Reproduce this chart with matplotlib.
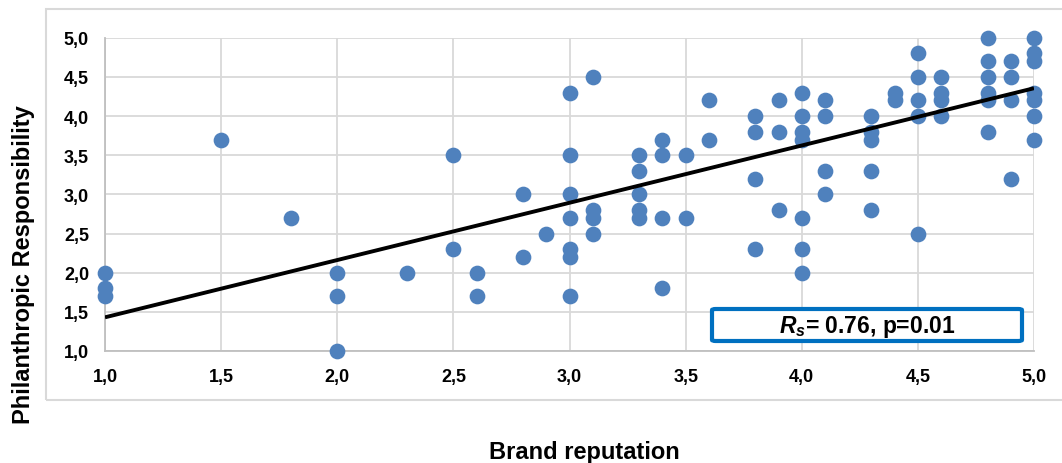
import numpy as np
import matplotlib
matplotlib.use('Agg')
import matplotlib.pyplot as plt
from matplotlib.patches import Rectangle, FancyBboxPatch
from matplotlib.ticker import FuncFormatter

plt.rcParams['font.family'] = ['Liberation Sans', 'DejaVu Sans']
plt.rcParams['mathtext.fontset'] = 'custom'
plt.rcParams['mathtext.it'] = 'Liberation Sans:italic:bold'
plt.rcParams['mathtext.rm'] = 'Liberation Sans:bold'

# Brand reputation (x) vs Philanthropic Responsibility (y)
brand = [1.0, 1.0, 1.0,
         1.5, 1.8,
         2.0, 2.0, 2.0, 2.3,
         2.5, 2.5, 2.6, 2.6, 2.8, 2.8, 2.9,
         3.0, 3.0, 3.0, 3.0, 3.0, 3.0, 3.0,
         3.1, 3.1, 3.1, 3.1,
         3.3, 3.3, 3.3, 3.3, 3.3,
         3.4, 3.4, 3.4, 3.4,
         3.5, 3.5, 3.6, 3.6,
         3.8, 3.8, 3.8, 3.8,
         3.9, 3.9, 3.9,
         4.0, 4.0, 4.0, 4.0, 4.0, 4.0, 4.0,
         4.1, 4.1, 4.1, 4.1,
         4.3, 4.3, 4.3, 4.3, 4.3,
         4.4, 4.4,
         4.5, 4.5, 4.5, 4.5, 4.5,
         4.6, 4.6, 4.6, 4.6,
         4.8, 4.8, 4.8, 4.8, 4.8, 4.8,
         4.9, 4.9, 4.9, 4.9,
         5.0, 5.0, 5.0, 5.0, 5.0, 5.0, 5.0]
philanthropic = [2.0, 1.8, 1.7,
                 3.7, 2.7,
                 2.0, 1.7, 1.0, 2.0,
                 3.5, 2.3, 2.0, 1.7, 3.0, 2.2, 2.5,
                 4.3, 3.5, 3.0, 2.7, 2.3, 2.2, 1.7,
                 4.5, 2.8, 2.7, 2.5,
                 3.5, 3.3, 3.0, 2.8, 2.7,
                 3.7, 3.5, 2.7, 1.8,
                 3.5, 2.7, 4.2, 3.7,
                 4.0, 3.8, 3.2, 2.3,
                 4.2, 3.8, 2.8,
                 4.3, 4.0, 3.8, 3.7, 2.7, 2.3, 2.0,
                 4.2, 4.0, 3.3, 3.0,
                 4.0, 3.8, 3.7, 3.3, 2.8,
                 4.3, 4.2,
                 4.8, 4.5, 4.2, 4.0, 2.5,
                 4.5, 4.3, 4.2, 4.0,
                 5.0, 4.7, 4.5, 4.3, 4.2, 3.8,
                 4.7, 4.5, 4.2, 3.2,
                 5.0, 4.8, 4.7, 4.3, 4.2, 4.0, 3.7]

# linear trend line endpoints
trend_x = [1.0, 5.0]
trend_y = [1.43, 4.355]

ticks = [1.0, 1.5, 2.0, 2.5, 3.0, 3.5, 4.0, 4.5, 5.0]
stat_text = r'$R_s$= 0.76, p=0.01'

W, H = 1062, 464
fig = plt.figure(figsize=(W / 100, H / 100), dpi=100)

# chart area frame
fig.patches.append(Rectangle((46 / W, 1 - 401 / H), (W + 5 - 46) / W, (401 - 10) / H,
                             transform=fig.transFigure, fill=False,
                             edgecolor='#D9D9D9', linewidth=1.5))

ax = fig.add_axes([105 / W, 1 - 352 / H, (1034 - 105) / W, (352 - 38.7) / H])
ax.set_xlim(1.0, 5.0)
ax.set_ylim(1.0, 5.0)
ax.set_xticks(ticks)
ax.set_yticks(ticks)
fmt = FuncFormatter(lambda v, p: f'{v:.1f}'.replace('.', ','))
ax.xaxis.set_major_formatter(fmt)
ax.yaxis.set_major_formatter(fmt)
ax.tick_params(length=0, labelsize=13, pad=11.5)
for lab in ax.get_xticklabels() + ax.get_yticklabels():
    lab.set_fontweight('bold')
ax.tick_params(axis='x', pad=12.5)

ax.grid(True, color='#D9D9D9', linewidth=1.3)
ax.set_axisbelow(True)
for side in ['top', 'right']:
    ax.spines[side].set_visible(False)
for side in ['left', 'bottom']:
    ax.spines[side].set_color('#BFBFBF')
    ax.spines[side].set_linewidth(1.3)

ax.scatter(brand, philanthropic, s=128, color='#4F81BD', linewidths=0,
           zorder=3, clip_on=False)
ax.plot(trend_x, trend_y, color='black', linewidth=2.8, zorder=4,
        solid_capstyle='butt')

# statistics box
bx0 = (712 - 105) / (1034 - 105)
bx1 = (1022 - 105) / (1034 - 105)
by0 = (352 - 342) / (352 - 38.7)
by1 = (352 - 310) / (352 - 38.7)
box = FancyBboxPatch((bx0, by0), bx1 - bx0, by1 - by0,
                     boxstyle='round,pad=0,rounding_size=0.004',
                     transform=ax.transAxes, facecolor='white',
                     edgecolor='#0070C0', linewidth=3, zorder=5,
                     clip_on=False)
ax.add_patch(box)
ax.text((bx0 + bx1) / 2, (by0 + by1) / 2 - 0.004, stat_text,
        transform=ax.transAxes, ha='center', va='center',
        fontsize=16.5, fontweight='bold', zorder=6)

fig.text(584 / W, 1 - 459 / H, 'Brand reputation', ha='center', va='baseline',
         fontsize=17, fontweight='bold')
fig.text(30.5 / W, 1 - 265 / H, 'Philanthropic Responsibility', rotation=90,
         rotation_mode='anchor', ha='center', va='baseline',
         fontsize=17, fontweight='bold')

fig.savefig('out.png', dpi=100)
